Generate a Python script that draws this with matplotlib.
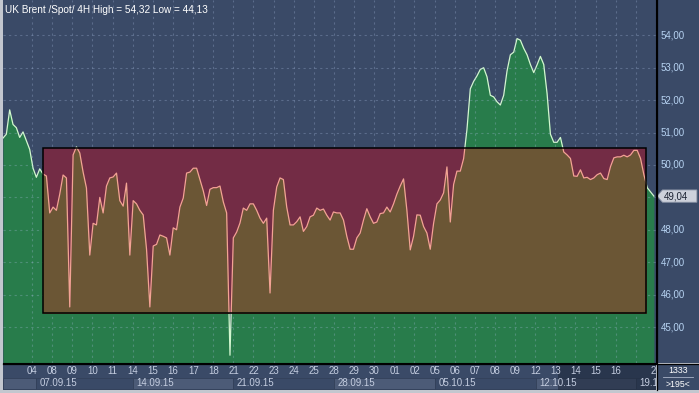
import matplotlib.pyplot as plt
from matplotlib.patches import Rectangle, Polygon

# 4H closes, UK Brent spot, 04.09.15 .. 19.10.15
closes = [
    50.83, 50.95, 51.70, 51.25, 51.15, 50.85, 51.02, 50.75, 50.48, 49.90,
    49.62, 49.88, 49.72, 49.66, 48.52, 48.70, 48.60, 49.10, 49.69, 49.60,
    45.62, 50.31, 50.56, 50.37, 49.78, 49.29, 47.22, 48.20, 48.15, 49.00,
    48.52, 49.35, 49.60, 49.63, 49.75, 48.90, 48.73, 49.44, 47.22, 48.90,
    48.80, 48.60, 48.46, 47.40, 45.62, 47.50, 47.55, 47.84, 47.80, 47.75,
    47.22, 48.06, 48.00, 48.70, 48.98, 49.75, 49.78, 49.90, 49.90, 49.55,
    49.20, 48.75, 49.25, 49.30, 49.30, 49.35, 48.86, 48.52, 44.13, 47.75,
    47.93, 48.21, 48.67, 48.60, 48.80, 48.80, 48.60, 48.36, 48.20, 48.36,
    46.05, 48.60, 49.32, 49.60, 49.55, 48.70, 48.15, 48.15, 48.25, 48.40,
    47.95, 48.10, 48.40, 48.45, 48.67, 48.60, 48.64, 48.45, 48.30, 48.55,
    48.52, 48.52, 48.30, 47.80, 47.40, 47.40, 47.75, 47.90, 48.30, 48.65,
    48.40, 48.20, 48.24, 48.50, 48.52, 48.70, 48.55, 48.80, 49.10, 49.35,
    49.57, 48.60, 47.38, 47.80, 48.46, 48.45, 48.10, 47.90, 47.40, 48.20,
    48.80, 48.92, 49.14, 49.94, 48.24, 49.40, 49.81, 49.81, 50.20, 51.10,
    52.35, 52.58, 52.75, 52.95, 53.00, 52.72, 52.15, 52.10, 51.95, 51.85,
    52.15, 52.90, 53.40, 53.48, 53.90, 53.85, 53.60, 53.40, 53.10, 52.85,
    53.09, 53.35, 53.10, 52.20, 50.95, 50.70, 50.70, 50.85, 50.40, 50.31,
    50.20, 49.66, 49.65, 49.85, 49.60, 49.62, 49.55, 49.60, 49.70, 49.75,
    49.58, 49.55, 49.95, 50.22, 50.25, 50.25, 50.30, 50.25, 50.31, 50.45,
    50.45, 50.20, 49.70, 49.30, 49.17, 49.04,
]
title = "UK Brent /Spot/ 4H High = 54,32 Low = 44,13"
day_labels = ['04', '08', '09', '10', '11', '14', '15', '16', '17', '18',
              '21', '22', '23', '24', '25', '28', '29', '30', '01', '02',
              '05', '06', '07', '08', '09', '12', '13', '14', '15', '16',
              '', '20']
first_day_bar = 8.7
bars_per_day = 6.03
week_labels = ['07.09.15', '14.09.15', '21.09.15', '28.09.15',
               '05.10.15', '12.10.15', '19.10.15']
week_starts = [9.9, 38.85, 69.0, 99.15, 129.3, 159.45, 189.6]
price_levels = [45, 46, 47, 48, 49, 50, 51, 52, 53, 54]
box_start, box_end = 12.0, 192.5
box_low, box_high = 45.43, 50.52
shade_start = 166.2
last_price = 49.04
bar_count, zoom_bars = '1333', '>195<'

BG = '#3a4a67'
W, H = 699, 393
ymin, ymax = 43.89, 55.09
xmax = 195.5

fig = plt.figure(figsize=(W / 100, H / 100), dpi=100, facecolor='#c3c7cf')
plt.rcParams['font.family'] = ['Liberation Sans', 'DejaVu Sans']


def px_axes(x0, y0, x1, y1):
    return fig.add_axes([x0 / W, 1 - y1 / H, (x1 - x0) / W, (y1 - y0) / H])


ax = px_axes(3, 0, 656, 363)
bx = px_axes(3, 364, 656, 390)
rx = px_axes(657, 0, 699, 363)
cx = px_axes(657, 364, 699, 390)

x = list(range(len(closes)))

# main price area
ax.set_facecolor(BG)
ax.set_xlim(0, xmax)
ax.set_ylim(ymin, ymax)
ax.fill_between(x, ymin, closes, color='#287c4b', lw=0, zorder=1)
ax.plot(x, closes, color='#d2f7cf', lw=0.9, zorder=2)

box = Rectangle((box_start, box_low), box_end - box_start, box_high - box_low,
                facecolor='#732c45', edgecolor='none', zorder=3)
ax.add_patch(box)
clip = Rectangle((box_start, box_low), box_end - box_start, box_high - box_low,
                 transform=ax.transData, facecolor='none')
brown = ax.fill_between(x, ymin, closes, color='#6b5635', lw=0, zorder=4)
brown.set_clip_path(clip)
pink, = ax.plot(x, closes, color='#f3a394', lw=0.9, zorder=5)
pink.set_clip_path(clip)
ax.add_patch(Rectangle((box_start, box_low), box_end - box_start,
                       box_high - box_low, facecolor='none',
                       edgecolor='black', lw=1.1, zorder=6))

ticks = [first_day_bar + i * bars_per_day for i in range(len(day_labels))]
ax.set_xticks(ticks)
ax.set_yticks(price_levels)
ax.tick_params(length=0, labelbottom=False, labelleft=False)
ax.grid(True, color='#a8bce0', alpha=0.3, lw=0.8, ls=(0, (2, 3)), zorder=7)
ax.set_axisbelow(False)
for s in ['top', 'left']:
    ax.spines[s].set_visible(False)
ax.spines['right'].set_color('black')
ax.spines['bottom'].set_color('black')
ax.text(0.003, 0.985, title, transform=ax.transAxes, color='white',
        fontsize=7.2, va='top', ha='left', zorder=10)

# time axis
bx.set_facecolor(BG)
bx.set_xlim(0, xmax)
bx.set_ylim(0, 1)
bx.set_xticks([])
bx.set_yticks([])
for s in bx.spines.values():
    s.set_visible(False)
edges = [0] + week_starts + [xmax]
for i in range(len(edges) - 1):
    c = '#4c5b77' if i % 2 == 0 else BG
    bx.add_patch(Rectangle((edges[i], 0.04), edges[i + 1] - edges[i], 0.44,
                           facecolor=c, edgecolor='#33415a', lw=0.6))
for lab, t in zip(day_labels, ticks):
    bx.text(t, 0.72, lab, color='#c4cde0', fontsize=7, ha='center',
            va='center', clip_on=True)
for lab, t in zip(week_labels, week_starts):
    bx.text(t + 1.0, 0.27, lab, color='#c4cde0', fontsize=7, ha='left',
            va='center', clip_on=True)
bx.axvspan(shade_start, xmax, color='#1c2638', alpha=0.55, lw=0)

# price scale
rx.set_facecolor(BG)
rx.set_ylim(ymin, ymax)
rx.set_xlim(0, 1)
rx.set_xticks([])
rx.set_yticks([])
for s in rx.spines.values():
    s.set_visible(False)
for p in price_levels:
    if abs(p - last_price) < 0.5:
        continue  # hidden behind the last-price marker
    rx.text(0.08, p, f'{p:.2f}'.replace('.', ','), color='#b7d3f2',
            fontsize=7, va='center', ha='left')
h = 0.19
rx.add_patch(Polygon([(0.0, last_price), (0.13, last_price + h),
                      (0.95, last_price + h), (0.95, last_price - h),
                      (0.13, last_price - h)],
                     facecolor='#cdd1db', edgecolor='#8a93a6', lw=0.6))
rx.text(0.16, last_price, f'{last_price:.2f}'.replace('.', ','),
        color='#1c2333', fontsize=7, va='center', ha='left')

# corner
cx.set_facecolor(BG)
cx.set_xticks([])
cx.set_yticks([])
for s in cx.spines.values():
    s.set_visible(False)
cx.text(0.5, 0.76, bar_count, color='white', fontsize=6.3, ha='center',
        va='center', transform=cx.transAxes)
cx.text(0.5, 0.22, zoom_bars, color='white', fontsize=6.3, ha='center',
        va='center', transform=cx.transAxes)
cx.plot([0.15, 0.85], [0.5, 0.5], color='#aab4c8', lw=0.6,
        transform=cx.transAxes)

# black frame lines between panels
fig.add_artist(plt.Line2D([656.5 / W, 656.5 / W], [3 / H, 1], color='black',
                          lw=0.9, transform=fig.transFigure))
fig.add_artist(plt.Line2D([3 / W, 1], [1 - 363.5 / H, 1 - 363.5 / H],
                          color='black', lw=0.9, transform=fig.transFigure))

fig.savefig('out.png', dpi=100, facecolor=fig.get_facecolor())
